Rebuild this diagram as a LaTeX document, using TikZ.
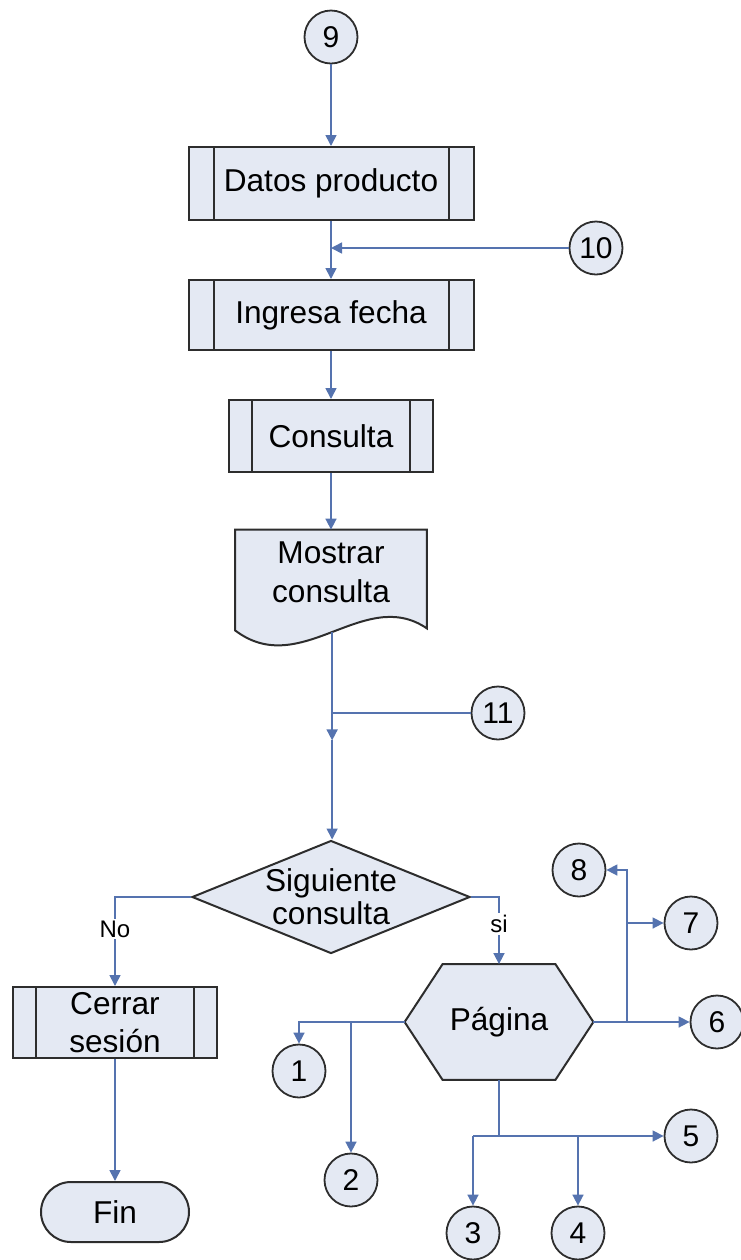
\documentclass[tikz,border=0pt]{standalone}
\usepackage{fontspec}
\setmainfont{Liberation Sans}
\usepackage{tikz}
\usetikzlibrary{
  arrows.meta, positioning, calc, backgrounds,
  shapes.geometric, shapes.misc
}
\definecolor{boxfill}{RGB}{228,233,243}
\definecolor{boxline}{RGB}{45,45,45}
\definecolor{flowblue}{RGB}{85,115,175}
\tikzset{
  procbox/.style={
    draw=boxline, line width=1pt, fill=boxfill, align=center,
    font=\fontsize{15.8}{19}\selectfont, inner sep=0pt,
    path picture={
      \draw[boxline, line width=1pt]
        ([xshift=#1]path picture bounding box.north west) --
        ([xshift=#1]path picture bounding box.south west)
        ([xshift=-#1]path picture bounding box.north east) --
        ([xshift=-#1]path picture bounding box.south east);
    }
  },
  procbox/.default=12.5pt,
  docbox/.style={
    rectangle, align=center, inner sep=0pt,
    minimum width=95.5pt, minimum height=42pt,
    font=\fontsize{15.8}{19.5}\selectfont
  },
  hexbox/.style={
    rectangle, align=center, inner sep=0pt,
    minimum width=94pt, minimum height=57.5pt,
    font=\fontsize{15.8}{19}\selectfont
  },
  decisionbox/.style={
    diamond, draw=boxline, line width=1pt, fill=boxfill, inner sep=0pt,
    minimum width=139pt, minimum height=56.5pt
  },
  decisiontext/.style={
    align=center, inner sep=0pt, font=\fontsize{15.8}{16.5}\selectfont
  },
  termbox/.style={
    rounded rectangle, draw=boxline, line width=1pt, fill=boxfill,
    minimum width=74pt, minimum height=30pt, inner sep=0pt,
    font=\fontsize{15.8}{19}\selectfont
  },
  connbox/.style={
    circle, draw=boxline, line width=0.9pt, fill=boxfill,
    minimum size=26.5pt, inner sep=0pt, font=\fontsize{15}{17}\selectfont
  },
  shapefill/.style={draw=boxline, line width=1pt, fill=boxfill},
  flowline/.style={draw=flowblue, line width=0.8pt},
  flowarrow/.style={
    -{Triangle[length=5.5pt,width=5.5pt]}, draw=flowblue, line width=0.8pt
  },
  flowlabel/.style={
    font=\fontsize{12}{13}\selectfont, fill=white, inner sep=1pt
  },
}

\begin{document}
\begin{tikzpicture}[x=0.5pt, y=-0.5pt]
  \useasboundingbox (0,0) rectangle (740,1260);

  % Main column
  \node[connbox] (c9) at (331,37) {9};
  \node[procbox, minimum width=142.5pt, minimum height=36.5pt]
    (datos) at (331,183.5) {Datos producto};
  \node[connbox] (c10) at (596,248) {10};
  \node[procbox, minimum width=142.5pt, minimum height=35pt]
    (ingresa) at (331,315) {Ingresa fecha};
  \node[procbox=11.5pt, minimum width=102pt, minimum height=36pt]
    (consulta) at (331,436) {Consulta};
  \node[docbox] (mostrar) at (331,572) {Mostrar\\consulta};
  \node[connbox] (c11) at (498,713) {11};

  % Decision and exit
  \node[decisionbox, label={[decisiontext]center:Siguiente\\consulta}]
    (sig) at (331,897) {};
  \node[procbox=11.5pt, minimum width=102pt, minimum height=35.5pt]
    (cerrar) at (115,1022.5) {Cerrar\\sesión};
  \node[termbox] (fin) at (115,1212) {Fin};

  % Page menu
  \node[hexbox] (pag) at (499,1022) {Página};
  \node[connbox] (c1) at (299,1071) {1};
  \node[connbox] (c2) at (351,1180) {2};
  \node[connbox] (c3) at (473,1233) {3};
  \node[connbox] (c4) at (578,1233) {4};
  \node[connbox] (c5) at (691,1136) {5};
  \node[connbox] (c6) at (717,1022) {6};
  \node[connbox] (c7) at (691,923) {7};
  \node[connbox] (c8) at (579,870) {8};

  % Document and hexagon outlines
  \begin{scope}[on background layer]
    \draw[shapefill] (mostrar.north west) -- (mostrar.north east)
      -- ([yshift=-7pt]mostrar.south east)
      .. controls ($(mostrar.south)+(33,-29)$) and ($(mostrar.south)+(-30,66)$)
      .. ([yshift=-8pt]mostrar.south west) coordinate[pos=0.5] (mostrarb)
      -- cycle;
    \draw[shapefill] (pag.west) -- ([xshift=19pt]pag.north west)
      -- ([xshift=-19pt]pag.north east) -- (pag.east)
      -- ([xshift=-19pt]pag.south east) -- ([xshift=19pt]pag.south west)
      -- cycle;
  \end{scope}

  % Connectors
  \draw[flowarrow] (c9.south) -- (datos.north);
  \draw[flowarrow] (datos.south) -- (ingresa.north);
  \draw[flowarrow] (c10.west) -- (c10 -| datos.south);
  \draw[flowarrow] (ingresa.south) -- (consulta.north);
  \draw[flowarrow] (consulta.south) -- (mostrar.north);
  \draw[flowarrow] (mostrarb) -- (mostrarb |- c11.south) coordinate (j11);
  \draw[flowline] (c11.west) -- (c11 -| mostrarb);
  \draw[flowarrow] (j11) -- (j11 |- sig.north);

  \draw[flowarrow] (sig.west) -| node[flowlabel, pos=0.68] (nolabel) {No}
    (cerrar.north);
  \draw[flowarrow] (sig.east) -| node[flowlabel, pos=0.7] (silabel) {si}
    (pag.north);
  \draw[flowarrow] (cerrar.south) -- (fin.north);

  % Page branches
  \draw[flowarrow] (pag.west) -| (c1.north);
  \draw[flowarrow] (c2 |- pag.west) -- (c2.north);
  \draw[flowline] (pag.south) -- (pag.south |- c5.west);
  \draw[flowarrow] (c3 |- c5.west) -- (c5.west);
  \draw[flowarrow] (c3 |- c5.west) -- (c3.north);
  \draw[flowarrow] (c4 |- c5.west) -- (c4.north);
  \coordinate (j6) at ($(pag.east)!0.35!(c6.west)$);
  \draw[flowarrow] (pag.east) -- (c6.west);
  \draw[flowarrow] (j6) |- (c8.east);
  \draw[flowarrow] (j6 |- c7.west) -- (c7.west);
\end{tikzpicture}
\end{document}
